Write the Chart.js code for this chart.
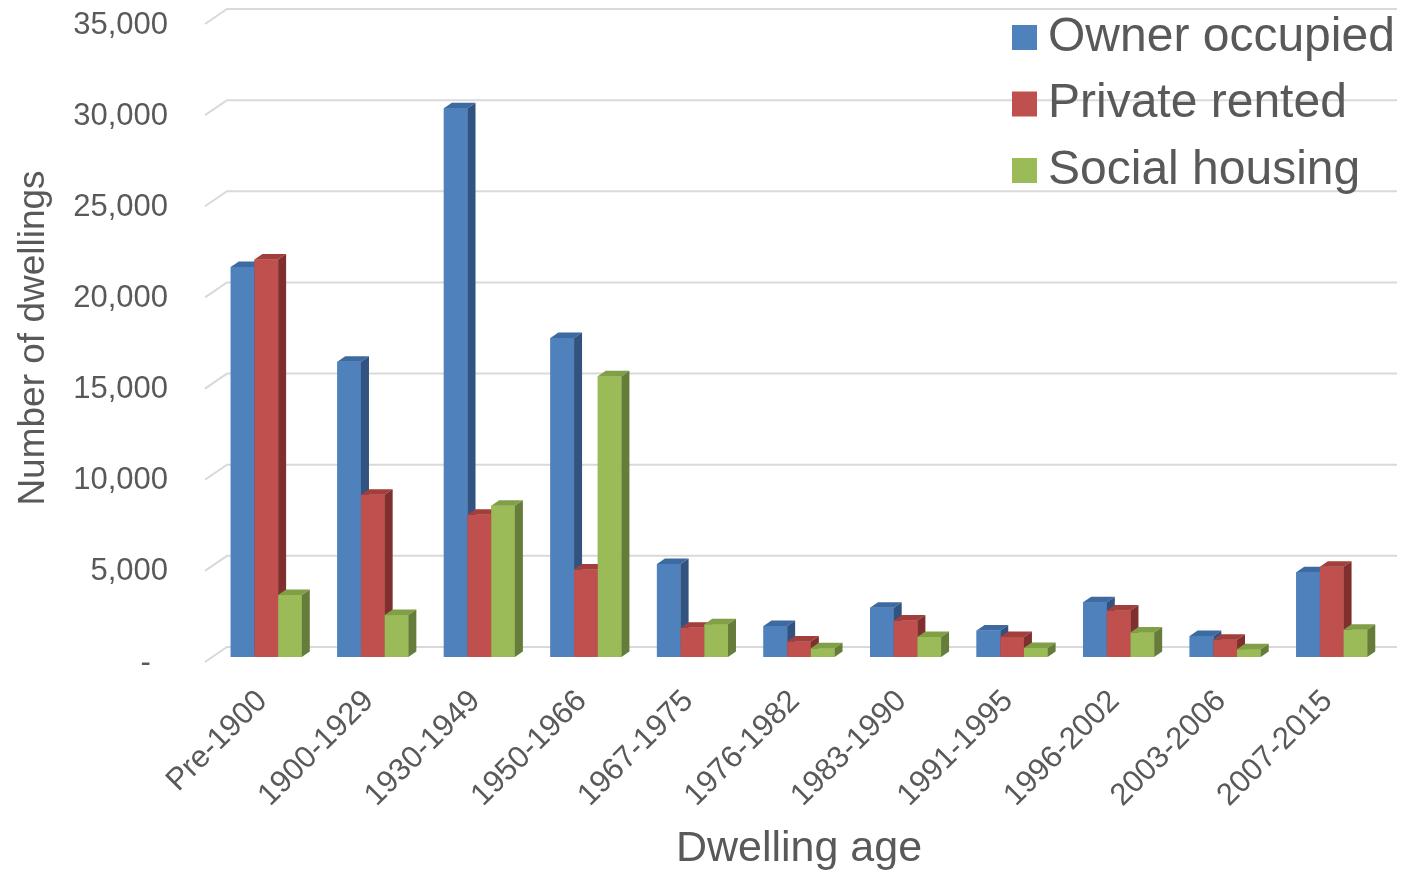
<!DOCTYPE html>
<html>
<head>
<meta charset="utf-8">
<script src="https://cdn.jsdelivr.net/npm/chart.js@4.4.1/dist/chart.umd.min.js"></script>
<style>
  html, body { margin: 0; padding: 0; background: #fff; }
  #wrap { width: 1404px; height: 872px; }
</style>
</head>
<body>
<div id="wrap"><canvas id="myChart" width="1404" height="872"></canvas></div>
<script>
// data
var categories = ['Pre-1900', '1900-1929', '1930-1949', '1950-1966', '1967-1975', '1976-1982',
    '1983-1990', '1991-1995', '1996-2002', '2003-2006', '2007-2015'];
var ownerOccupied = [21400, 16200, 30100, 17500, 5100, 1700, 2700, 1450, 3000, 1150, 4650];
var privateRented = [21800, 8900, 7800, 4800, 1600, 850, 2000, 1100, 2550, 950, 4950];
var socialHousing = [3400, 2300, 8300, 15400, 1800, 480, 1100, 500, 1350, 430, 1500];
var seriesNames = ['Owner occupied', 'Private rented', 'Social housing'];
var yMax = 35000;
var yStep = 5000;

var frontColors = ['#4f81bd', '#c0504d', '#9bbb59'];
var topColors = ['#3d6aa0', '#a23e3b', '#819f47'];
var sideColors = ['#32537f', '#7f302e', '#667c3a'];

var FONT = '"Liberation Sans", Arial, sans-serif';
var GREY = '#595959';
var DX = 8, DY = 5.5;   // depth of the 3d boxes

// back wall grid + 3d boxes + legend
var bars3d = {
    id: 'bars3d',
    beforeDatasetsDraw: function(chart) {
        var ctx = chart.ctx, a = chart.chartArea, y = chart.scales.y;
        ctx.save();
        ctx.strokeStyle = '#d9d9d9';
        ctx.lineWidth = 2;
        y.ticks.forEach(function(t) {
            var py = y.getPixelForValue(t.value);
            ctx.beginPath();
            ctx.moveTo(a.left - 8, py + 5);
            ctx.lineTo(a.left + 14, py - 10);
            ctx.lineTo(a.right + 12, py - 10);
            ctx.stroke();
        });
        ctx.restore();
    },
    afterDatasetsDraw: function(chart) {
        var ctx = chart.ctx;
        var n = chart.data.labels.length;
        ctx.save();
        for (var k = 0; k < n; k++) {
            chart.data.datasets.forEach(function(ds, di) {
                var bar = chart.getDatasetMeta(di).data[k];
                var p = bar.getProps(['x', 'y', 'base', 'width'], true);
                var x0 = p.x - p.width / 2, x1 = p.x + p.width / 2;
                // front
                ctx.fillStyle = frontColors[di];
                ctx.fillRect(x0, p.y, p.width, p.base - p.y);
                // top
                ctx.fillStyle = topColors[di];
                ctx.beginPath();
                ctx.moveTo(x0, p.y);
                ctx.lineTo(x1, p.y);
                ctx.lineTo(x1 + DX, p.y - DY);
                ctx.lineTo(x0 + DX, p.y - DY);
                ctx.closePath();
                ctx.fill();
                // side
                ctx.fillStyle = sideColors[di];
                ctx.beginPath();
                ctx.moveTo(x1, p.y);
                ctx.lineTo(x1 + DX, p.y - DY);
                ctx.lineTo(x1 + DX, p.base - DY);
                ctx.lineTo(x1, p.base);
                ctx.closePath();
                ctx.fill();
            });
        }
        ctx.restore();
    },
    afterDraw: function(chart) {
        var ctx = chart.ctx;
        ctx.save();
        ctx.font = '48px ' + FONT;
        ctx.textBaseline = 'middle';
        ctx.textAlign = 'left';
        chart.data.datasets.forEach(function(ds, i) {
            var cy = 37.5 + i * 66.5;
            ctx.fillStyle = frontColors[i];
            ctx.fillRect(1012, cy - 12.5, 25, 25);
            ctx.fillStyle = GREY;
            ctx.fillText(ds.label, 1048, cy);
        });
        ctx.restore();
    }
};

var ctx = document.getElementById('myChart').getContext('2d');
var myChart = new Chart(ctx, {
    type: 'bar',
    data: {
        labels: categories,
        datasets: [
            { label: seriesNames[0], data: ownerOccupied, backgroundColor: frontColors[0] },
            { label: seriesNames[1], data: privateRented, backgroundColor: frontColors[1] },
            { label: seriesNames[2], data: socialHousing, backgroundColor: frontColors[2] }
        ]
    },
    options: {
        responsive: false,
        animation: false,
        devicePixelRatio: 1,
        categoryPercentage: 0.667,
        barPercentage: 1.0,
        layout: { padding: { top: 19, right: 19, left: 0, bottom: 0 } },
        plugins: {
            legend: { display: false },
            tooltip: { enabled: false }
        },
        scales: {
            x: {
                grid: { display: false, drawTicks: false },
                border: { display: false },
                ticks: {
                    color: GREY,
                    font: { family: FONT, size: 31 },
                    minRotation: 45,
                    maxRotation: 45,
                    padding: 26,
                    labelOffset: -4
                },
                title: {
                    display: true,
                    text: 'Dwelling age',
                    color: GREY,
                    font: { family: FONT, size: 43 },
                    padding: { top: 0, bottom: -3 }
                },
                afterFit: function(scale) { scale.height = 215; }
            },
            y: {
                min: 0,
                max: yMax,
                grid: { display: false, drawTicks: false },
                border: { display: false },
                ticks: {
                    stepSize: yStep,
                    color: GREY,
                    font: { family: FONT, size: 31 },
                    padding: 45,
                    labelOffset: 6,
                    callback: function(v) { return v === 0 ? '-\u2007' : v.toLocaleString('en-US'); }
                },
                title: {
                    display: true,
                    text: 'Number of dwellings',
                    color: GREY,
                    font: { family: FONT, size: 37 },
                    padding: { top: 12, bottom: 0 }
                },
                afterFit: function(scale) {
                    scale.width = 213;
                    // tick padding should not push the plot down
                    scale.paddingTop = 0;
                    scale.paddingBottom = 0;
                }
            }
        }
    },
    plugins: [bars3d]
});
</script>
</body>
</html>
